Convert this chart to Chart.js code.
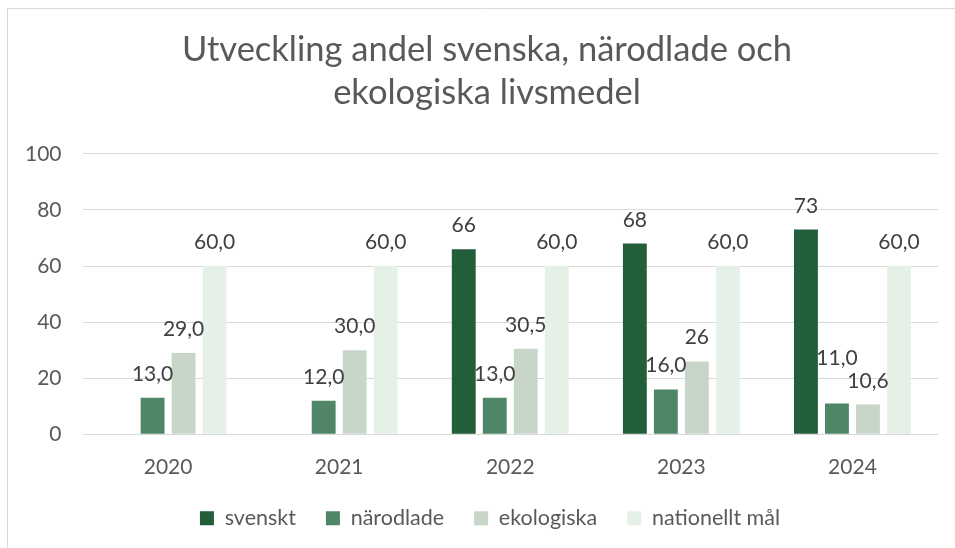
<!DOCTYPE html>
<html>
<head>
<meta charset="utf-8">
<script src="https://cdn.jsdelivr.net/npm/chart.js@4"></script>
<style>
  html, body { margin: 0; padding: 0; background: #fff; }
  #wrap { width: 955px; height: 548px; position: relative; }
</style>
</head>
<body>
<div id="wrap"><canvas id="grafico" width="955" height="548"></canvas></div>
<script>
const years = ['2020', '2021', '2022', '2023', '2024'];

const svenskt = [null, null, 66, 68, 73];
const narodlade = [13, 12, 13, 16, 11];
const ekologiska = [29, 30, 30.5, 26, 10.6];
const nationelltMal = [60, 60, 60, 60, 60];

// etiketterna som de står i originalet (blandad formatering)
const svensktLabels = ['', '', '66', '68', '73'];
const narodladeLabels = ['13,0', '12,0', '13,0', '16,0', '11,0'];
const ekologiskaLabels = ['29,0', '30,0', '30,5', '26', '10,6'];
const malLabels = ['60,0', '60,0', '60,0', '60,0', '60,0'];

const yTicks = [0, 20, 40, 60, 80, 100];

const fontFamily = 'Lato, "Open Sans", sans-serif';
const forklaringKrymp = 14;
const forklaringFlytt = 19;
const titelFlytt = 16;

// Ritar ram runt diagrammet
const ramPlugin = {
  id: 'ram',
  beforeDraw(chart) {
    const c = chart.ctx;
    c.save();
    c.fillStyle = '#fff';
    c.fillRect(0, 0, chart.width, chart.height);
    c.strokeStyle = '#d9d9d9';
    c.lineWidth = 1;
    c.beginPath();
    c.moveTo(7.5, chart.height);
    c.lineTo(7.5, 8.5);
    c.lineTo(chart.width, 8.5);
    c.stroke();
    c.restore();
  }
};

// Tätare förklaring och titel/förklaring centrerade mot ramen
const placeringPlugin = {
  id: 'placering',
  beforeUpdate(chart) {
    const legend = chart.legend;
    if (legend && !legend._tat) {
      legend._tat = true;
      const fit = legend.fit;
      legend.fit = function () {
        fit.call(this);
        this.height -= forklaringKrymp;
      };
      const draw = legend.draw;
      legend.draw = function () {
        this.top -= forklaringKrymp;
        this.left += forklaringFlytt;
        this.right += forklaringFlytt;
        draw.call(this);
        this.top += forklaringKrymp;
        this.left -= forklaringFlytt;
        this.right -= forklaringFlytt;
      };
    }
    const titel = chart.titleBlock;
    if (titel && !titel._flytt) {
      titel._flytt = true;
      const tdraw = titel.draw;
      titel.draw = function () {
        this.ctx.save();
        this.ctx.translate(titelFlytt, 0);
        tdraw.call(this);
        this.ctx.restore();
      };
    }
  }
};

// Etiketter ovanför staplarna (flyttas upp om de krockar)
const etikettPlugin = {
  id: 'etiketter',
  afterDatasetsDraw(chart) {
    const c = chart.ctx;
    c.save();
    c.font = '21px ' + fontFamily;
    c.fillStyle = '#404040';
    c.textAlign = 'center';
    c.textBaseline = 'alphabetic';
    const n = chart.data.labels.length;
    for (let j = 0; j < n; j++) {
      const placerade = [];
      for (let i = chart.data.datasets.length - 1; i >= 0; i--) {
        const ds = chart.data.datasets[i];
        const txt = ds.etiketter[j];
        if (!txt || ds.data[j] === null) continue;
        const bar = chart.getDatasetMeta(i).data[j];
        const w = c.measureText(txt).width;
        let y = bar.y - 17;
        let box = { l: bar.x - w / 2, r: bar.x + w / 2, t: y - 15, b: y + 4 };
        let krock = true;
        while (krock) {
          krock = false;
          for (const p of placerade) {
            if (box.l < p.r && box.r > p.l && box.t < p.b && box.b > p.t) {
              y = p.t - 8;
              box = { l: box.l, r: box.r, t: y - 15, b: y + 4 };
              krock = true;
            }
          }
        }
        placerade.push(box);
        c.fillText(txt, bar.x, y);
      }
    }
    c.restore();
  }
};

const ctx = document.getElementById('grafico').getContext('2d');

const grafico = new Chart(ctx, {
  type: 'bar',
  data: {
    labels: years,
    datasets: [{
      label: 'svenskt',
      data: svenskt,
      etiketter: svensktLabels,
      backgroundColor: '#225e3a'
    },
    {
      label: 'närodlade',
      data: narodlade,
      etiketter: narodladeLabels,
      backgroundColor: '#4f8667'
    },
    {
      label: 'ekologiska',
      data: ekologiska,
      etiketter: ekologiskaLabels,
      backgroundColor: '#c8d6ca'
    },
    {
      label: 'nationellt mål',
      data: nationelltMal,
      etiketter: malLabels,
      backgroundColor: '#e5f0e7'
    }]
  },
  options: {
    responsive: false,
    animation: false,
    devicePixelRatio: 1,
    categoryPercentage: 0.725,
    barPercentage: 0.77,
    layout: {
      padding: { left: 4, right: 17, top: 20, bottom: 9 }
    },
    plugins: {
      title: {
        display: true,
        text: ['Utveckling andel svenska, närodlade och', 'ekologiska livsmedel'],
        color: '#595959',
        font: { family: fontFamily, size: 34.5, weight: 'normal', lineHeight: 1.23 },
        padding: { top: 9, bottom: 40 }
      },
      legend: {
        position: 'bottom',
        labels: {
          color: '#595959',
          font: { family: fontFamily, size: 21.5 },
          boxWidth: 14,
          boxHeight: 14,
          padding: 30
        }
      },
      tooltip: { enabled: false }
    },
    scales: {
      x: {
        grid: { display: false },
        border: { display: false },
        ticks: {
          color: '#595959',
          font: { family: fontFamily, size: 21 },
          padding: 12
        }
      },
      y: {
        min: 0,
        max: 100,
        afterBuildTicks(axis) {
          axis.ticks = yTicks.map(v => ({ value: v }));
        },
        grid: { color: '#d9d9d9', drawTicks: false },
        border: { display: false },
        ticks: {
          color: '#595959',
          font: { family: fontFamily, size: 21 },
          padding: 21
        }
      }
    }
  },
  plugins: [ramPlugin, placeringPlugin, etikettPlugin]
});
</script>
</body>
</html>
